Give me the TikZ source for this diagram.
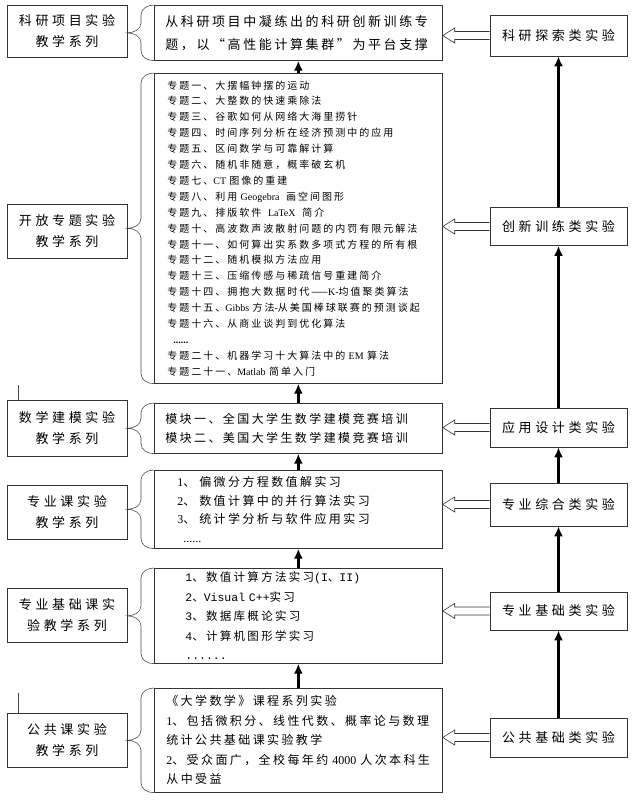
\documentclass[tikz,border=0pt]{standalone}
\usepackage{fontspec}
\setmainfont{Noto Sans CJK SC}
\newfontfamily\cjkwide{Noto Sans CJK SC}[LetterSpace=28]
\newfontfamily\cjknorm{Noto Sans CJK SC}[LetterSpace=20]
\newfontfamily\lat{Liberation Serif}
\newfontfamily\mon{Liberation Mono}
\newcommand{\en}[1]{{\lat #1}}
\newcommand{\mo}[1]{{\mon #1}}
\usetikzlibrary{calc,arrows.meta}

\tikzset{
	lbox/.style={draw=black!80, line width=0.7pt, minimum width=120pt, minimum height=54pt, inner sep=0pt, align=center, font=\cjkwide\fontsize{13}{21}\selectfont},
	rbox/.style={draw=black!80, line width=0.7pt, minimum width=137pt, inner sep=0pt, font=\cjkwide\fontsize{13}{16}\selectfont},
	cbox/.style={draw=black!80, line width=0.7pt, anchor=north west, inner ysep=0pt, align=left, font=\cjknorm\fontsize{12}{19}\selectfont},
	climb/.style={line width=2.3pt, -{Latex[length=10pt,width=9pt]}},
	hol/.style={line width=0.6pt, draw=black!80, fill=white},
	brc/.style={line width=0.6pt, draw=black!70}
}

% curly brace on the left side of a content box
\newcommand{\brac}[1]{%
	\draw[brc] (#1.north west) to[out=180,in=90] ($(#1.north west)+(-13,-10)$) -- ($(#1.west)+(-13,10)$) to[out=-90,in=0] ($(#1.west)+(-27,0)$) to[out=0,in=90] ($(#1.west)+(-13,-10)$) -- ($(#1.south west)+(-13,10)$) to[out=-90,in=180] (#1.south west);}
% hollow arrow from a right box to a content box
\newcommand{\hollow}[2]{%
	\draw[hol] ($(#1.west)+(0,4)$) -- ($(#2.east |- #1.west)+(12,4)$) -- ($(#2.east |- #1.west)+(12,7.5)$) -- (#2.east |- #1.west) -- ($(#2.east |- #1.west)+(12,-7.5)$) -- ($(#2.east |- #1.west)+(12,-4)$) -- ($(#1.west)+(0,-4)$);}

\begin{document}
\begin{tikzpicture}[x=1pt,y=1pt]
	\useasboundingbox (0,0) rectangle (635,-800);

	\node[lbox, minimum height=52pt] (lA) at (67,-31) {科研项目实验\\教学系列};
	\node[lbox] (lB) at (67,-231) {开放专题实验\\教学系列};
	\node[lbox, minimum height=56pt] (lC) at (67,-428) {数学建模实验\\教学系列};
	\node[lbox] (lD) at (67,-512) {专业课实验\\教学系列};
	\node[lbox] (lE) at (67,-615) {专业基础课实\\验教学系列};
	\node[lbox] (lF) at (67,-740) {公共课实验\\教学系列};

	\node[cbox, minimum height=55pt, inner xsep=11pt, text width=266pt, font=\cjknorm\fontsize{13}{23}\selectfont] (cA) at (154,-5) {从科研项目中凝练出的科研创新训练专\\题，以“高性能计算集群”为平台支撑};
	\node[cbox, minimum height=310pt, inner xsep=13pt, text width=262pt, font=\cjknorm\fontsize{10}{15.9}\selectfont] (cB) at (154,-73) {专题一、大摆幅钟摆的运动\\专题二、大整数的快速乘除法\\专题三、谷歌如何从网络大海里捞针\\专题四、时间序列分析在经济预测中的应用\\专题五、区间数学与可靠解计算\\专题六、随机非随意，概率破玄机\\专题七、\en{CT}~图像的重建\\专题八、利用~\en{Geogebra}~~画空间图形\\专题九、排版软件~~\en{LaTeX}~~简介\\专题十、高波数声波散射问题的内罚有限元解法\\专题十一、如何算出实系数多项式方程的所有根\\专题十二、随机模拟方法应用\\专题十三、压缩传感与稀疏信号重建简介\\专题十四、拥抱大数据时代——\en{K-}均值聚类算法\\专题十五、\en{Gibbs}~方法\en{-}从美国棒球联赛的预测谈起\\专题十六、从商业谈判到优化算法\\\hspace{6pt}\en{\bfseries ......}\\专题二十、机器学习十大算法中的~\en{EM}~算法\\专题二十一、\en{Matlab}~简单入门};
	\node[cbox, minimum height=50pt, inner xsep=11pt, text width=266pt] (cC) at (154,-403) {模块一、全国大学生数学建模竞赛培训\\模块二、美国大学生数学建模竞赛培训};
	\node[cbox, minimum height=78pt, inner xsep=23pt, text width=242pt, font=\cjknorm\fontsize{12}{18.5}\selectfont] (cD) at (154,-470) {\en{1}、~偏微分方程数值解实习\\\en{2}、~数值计算中的并行算法实习\\\en{3}、~统计学分析与软件应用实习\\\hspace{6pt}\en{......}};
	\node[cbox, minimum height=95pt, inner xsep=31pt, text width=226pt, font=\cjknorm\fontsize{11.5}{19.5}\selectfont] (cE) at (154,-568) {\mo{1}、数值计算方法实习\mo{(I}、\mo{II)}\\\mo{2}、\mo{Visual~C++}实习\\\mo{3}、数据库概论实习\\\mo{4}、计算机图形学实习\\\mo{......}};
	\node[cbox, minimum height=104pt, inner xsep=12pt, text width=264pt, font=\cjknorm\fontsize{12}{19.5}\selectfont] (cF) at (154,-688) {《大学数学》课程系列实验\\\en{1}、包括微积分、线性代数、概率论与数理\\统计公共基础课实验教学\\\en{2}、受众面广，全校每年约~\en{4000}~人次本科生\\从中受益};

	\node[rbox, minimum height=41pt] (rA) at (558.5,-35.5) {科研探索类实验};
	\node[rbox, minimum height=38pt] (rB) at (558.5,-226.5) {创新训练类实验};
	\node[rbox, minimum height=39pt] (rC) at (558.5,-427.5) {应用设计类实验};
	\node[rbox, minimum height=43pt] (rD) at (558.5,-504.5) {专业综合类实验};
	\node[rbox, minimum height=38pt] (rE) at (558.5,-611) {专业基础类实验};
	\node[rbox, minimum height=39pt] (rF) at (558.5,-737.5) {公共基础类实验};

	\brac{cA} \brac{cB} \brac{cC} \brac{cD} \brac{cE} \brac{cF}

	\draw[climb] (cF) -- (cE);
	\draw[climb] (cE) -- (cD);
	\draw[climb] (cD) -- (cC);
	\draw[climb] (cC) -- (cB);
	\draw[climb] (cB) -- (cA);

	\draw[climb] (rF) -- (rE);
	\draw[climb] (rE) -- (rD);
	\draw[climb] (rD) -- (rC);
	\draw[climb] (rC) -- (rB);
	\draw[climb] (rB) -- (rA);

	\hollow{rA}{cA} \hollow{rB}{cB} \hollow{rC}{cC}
	\hollow{rD}{cD} \hollow{rE}{cE} \hollow{rF}{cF}

	\draw[brc] ([xshift=-49pt]lC.north) -- ++(0,15);
	\draw[brc] ([xshift=-49pt]lF.north) -- ++(0,20);
\end{tikzpicture}
\end{document}
